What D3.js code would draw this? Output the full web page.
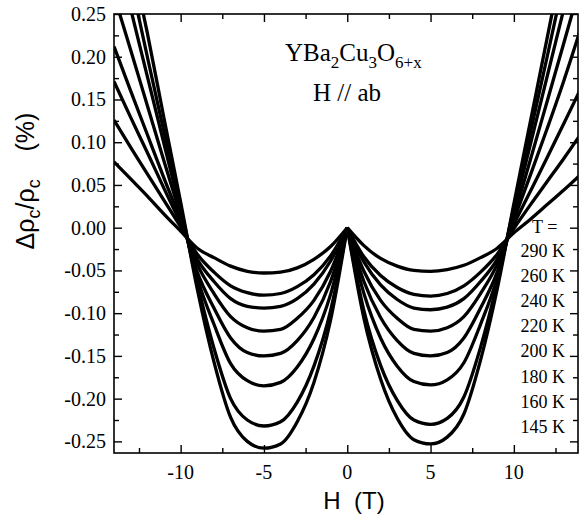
<!DOCTYPE html>
<html>
<head>
<meta charset="utf-8">
<script src="https://d3js.org/d3.v7.min.js"></script>
<style>
    body { margin: 0; background: #fff; }
    .tick-label { font-family: "Liberation Serif", "Times New Roman", serif; font-size: 20px; fill: #000; }
    .legend { font-family: "Liberation Serif", "Times New Roman", serif; font-size: 18px; fill: #000; }
    .note { font-family: "Liberation Serif", "Times New Roman", serif; font-size: 25px; fill: #000; }
    .axis-title { font-family: "Liberation Sans", Arial, sans-serif; font-size: 24px; fill: #000; }
</style>
</head>
<body>
<script>
//field values (T), same for every curve
var fields = [-14,-13,-12,-11,-10,-9,-8,-7,-6,-5,-4,-3,-2,-1,0,1,2,3,4,5,6,7,8,9,10,11,12,13,14];

//temperatures, top of legend first
var temps = ["290 K","260 K","240 K","220 K","200 K","180 K","160 K","145 K"];

//delta rho_c / rho_c (%), one array per temperature
var v290 = [0.077,0.057,0.037,0.016,-0.004,-0.024,-0.035,-0.045,-0.051,-0.053,-0.052,-0.047,-0.037,-0.022,0,-0.021,-0.036,-0.045,-0.050,-0.051,-0.049,-0.044,-0.035,-0.024,-0.006,0.010,0.027,0.044,0.062];
var v260 = [0.126,0.094,0.063,0.032,0.001,-0.031,-0.052,-0.068,-0.076,-0.079,-0.077,-0.069,-0.055,-0.033,0,-0.034,-0.056,-0.070,-0.078,-0.080,-0.077,-0.068,-0.052,-0.031,-0.001,0.027,0.054,0.081,0.109];
var v240 = [0.171,0.129,0.088,0.046,0.005,-0.037,-0.063,-0.083,-0.092,-0.094,-0.092,-0.083,-0.066,-0.039,0,-0.040,-0.067,-0.084,-0.094,-0.096,-0.093,-0.083,-0.063,-0.037,0.004,0.043,0.082,0.122,0.162];
var v220 = [0.212,0.160,0.109,0.058,0.009,-0.043,-0.077,-0.104,-0.117,-0.121,-0.119,-0.106,-0.085,-0.051,0,-0.051,-0.085,-0.106,-0.119,-0.121,-0.117,-0.104,-0.077,-0.043,0.009,0.062,0.116,0.172,0.232];
var v200 = [0.272,0.208,0.143,0.078,0.014,-0.052,-0.094,-0.129,-0.146,-0.150,-0.147,-0.132,-0.105,-0.063,0,-0.063,-0.105,-0.132,-0.147,-0.150,-0.146,-0.129,-0.094,-0.052,0.013,0.080,0.148,0.216,0.285];
var v180 = [0.335,0.256,0.177,0.098,0.020,-0.059,-0.113,-0.159,-0.179,-0.185,-0.181,-0.163,-0.130,-0.078,0,-0.077,-0.129,-0.162,-0.180,-0.184,-0.178,-0.158,-0.113,-0.059,0.020,0.098,0.177,0.256,0.335];
var v160 = [0.38,0.290,0.200,0.112,0.024,-0.065,-0.141,-0.200,-0.225,-0.232,-0.227,-0.204,-0.162,-0.097,0,-0.097,-0.161,-0.202,-0.225,-0.230,-0.223,-0.198,-0.140,-0.065,0.024,0.112,0.200,0.290,0.38];
var v145 = [0.42,0.32,0.228,0.128,0.030,-0.072,-0.157,-0.222,-0.250,-0.258,-0.253,-0.227,-0.181,-0.108,0,-0.106,-0.177,-0.223,-0.248,-0.253,-0.245,-0.218,-0.155,-0.072,0.028,0.125,0.222,0.32,0.42];

var series = [v290, v260, v240, v220, v200, v180, v160, v145];

//tick values
var xMajor = [-10,-5,0,5,10];
var xMinor = [-12.5,-7.5,-2.5,2.5,7.5,12.5];
var yMajor = [-0.25,-0.20,-0.15,-0.10,-0.05,0,0.05,0.10,0.15,0.20,0.25];
var yMinor = [-0.225,-0.175,-0.125,-0.075,-0.025,0.025,0.075,0.125,0.175,0.225];

(function(){

    //frame ("top" is taken by window.top, so prefix everything)
    var width = 579, height = 519,
        pLeft = 114, pRight = 578, pTop = 14, pBottom = 453;

    var x = d3.scaleLinear().domain([-14, 13.85]).range([pLeft, pRight]);
    var y = d3.scaleLinear().domain([-0.2636, 0.25]).range([pBottom, pTop]);

    var svg = d3.select("body")
        .append("svg")
        .attr("width", width)
        .attr("height", height);

    svg.append("clipPath")
        .attr("id", "plotClip")
        .append("rect")
        .attr("x", pLeft)
        .attr("y", pTop)
        .attr("width", pRight - pLeft)
        .attr("height", pBottom - pTop);

    //split every sweep at H = 0 so the cusp stays sharp
    var zero = fields.indexOf(0);
    var branches = [];
    series.forEach(function(s){
        var pts = s.map(function(v, i){ return [fields[i], v]; });
        branches.push(pts.slice(0, zero + 1));
        branches.push(pts.slice(zero));
    });

    //curves
    var line = d3.line()
        .x(function(d){ return x(d[0]); })
        .y(function(d){ return y(d[1]); })
        .curve(d3.curveMonotoneX);

    svg.append("g")
        .attr("clip-path", "url(#plotClip)")
        .selectAll(".curve")
        .data(branches)
        .enter()
        .append("path")
        .attr("class", "curve")
        .attr("d", line)
        .attr("fill", "none")
        .attr("stroke", "#000")
        .attr("stroke-width", 3.3)
        .attr("stroke-linejoin", "round");

    //axes, ticks pointing inward on all four sides
    function addAxis(axis, tx, ty){
        return svg.append("g")
            .attr("transform", "translate(" + tx + "," + ty + ")")
            .call(axis)
            .call(function(g){
                g.select(".domain").remove();
                g.selectAll(".tick text").remove();
                g.selectAll(".tick line").attr("stroke", "#000").attr("stroke-width", 1.4);
            });
    }

    addAxis(d3.axisBottom(x).tickValues(xMajor).tickSize(-8), 0, pBottom);
    addAxis(d3.axisBottom(x).tickValues(xMinor).tickSize(-5), 0, pBottom);
    addAxis(d3.axisTop(x).tickValues(xMajor).tickSize(-8), 0, pTop);
    addAxis(d3.axisTop(x).tickValues(xMinor).tickSize(-5), 0, pTop);
    addAxis(d3.axisLeft(y).tickValues(yMajor).tickSize(-8), pLeft, 0);
    addAxis(d3.axisLeft(y).tickValues(yMinor).tickSize(-5), pLeft, 0);
    addAxis(d3.axisRight(y).tickValues(yMajor).tickSize(-8), pRight, 0);
    addAxis(d3.axisRight(y).tickValues(yMinor).tickSize(-5), pRight, 0);

    svg.append("rect")
        .attr("x", pLeft)
        .attr("y", pTop)
        .attr("width", pRight - pLeft)
        .attr("height", pBottom - pTop)
        .attr("fill", "none")
        .attr("stroke", "#000")
        .attr("stroke-width", 1.6);

    //tick labels
    svg.selectAll(".xlab")
        .data(xMajor)
        .enter()
        .append("text")
        .attr("class", "tick-label")
        .attr("x", function(d){ return x(d); })
        .attr("y", 479)
        .attr("text-anchor", "middle")
        .text(function(d){ return String(d); });

    svg.selectAll(".ylab")
        .data(yMajor)
        .enter()
        .append("text")
        .attr("class", "tick-label")
        .attr("x", 106)
        .attr("y", function(d){ return y(d) + 7; })
        .attr("text-anchor", "end")
        .text(function(d){ return d.toFixed(2); });

    //axis titles
    svg.append("text")
        .attr("class", "axis-title")
        .attr("x", 354)
        .attr("y", 509)
        .attr("text-anchor", "middle")
        .attr("xml:space", "preserve")
        .text("H  (T)");

    var yTitle = svg.append("text")
        .attr("class", "axis-title")
        .attr("transform", "translate(34,181) rotate(-90)")
        .attr("text-anchor", "middle")
        .attr("xml:space", "preserve")
        .style("font-size", "25px");
    yTitle.append("tspan").text("\u0394\u03C1");
    yTitle.append("tspan").attr("dy", 6).style("font-size", "18px").text("c");
    yTitle.append("tspan").attr("dy", -6).text("/\u03C1");
    yTitle.append("tspan").attr("dy", 6).style("font-size", "18px").text("c");
    yTitle.append("tspan").attr("dy", -6).text("    (%)");

    //compound and field direction
    var comp = svg.append("text")
        .attr("class", "note")
        .attr("x", 285)
        .attr("y", 61);
    comp.append("tspan").text("YBa");
    comp.append("tspan").attr("dy", 7).style("font-size", "17px").text("2");
    comp.append("tspan").attr("dy", -7).text("Cu");
    comp.append("tspan").attr("dy", 7).style("font-size", "17px").text("3");
    comp.append("tspan").attr("dy", -7).text("O");
    comp.append("tspan").attr("dy", 7).style("font-size", "17px").text("6+x");

    svg.append("text")
        .attr("class", "note")
        .attr("x", 313)
        .attr("y", 101)
        .text("H // ab");

    //temperature legend
    svg.append("text")
        .attr("class", "legend")
        .attr("x", 532)
        .attr("y", 233)
        .text("T =");

    svg.selectAll(".templab")
        .data(temps)
        .enter()
        .append("text")
        .attr("class", "legend")
        .attr("x", 565)
        .attr("y", function(d, i){ return 257 + i * 25.1; })
        .attr("text-anchor", "end")
        .text(function(d){ return d; });
})();
</script>
</body>
</html>
